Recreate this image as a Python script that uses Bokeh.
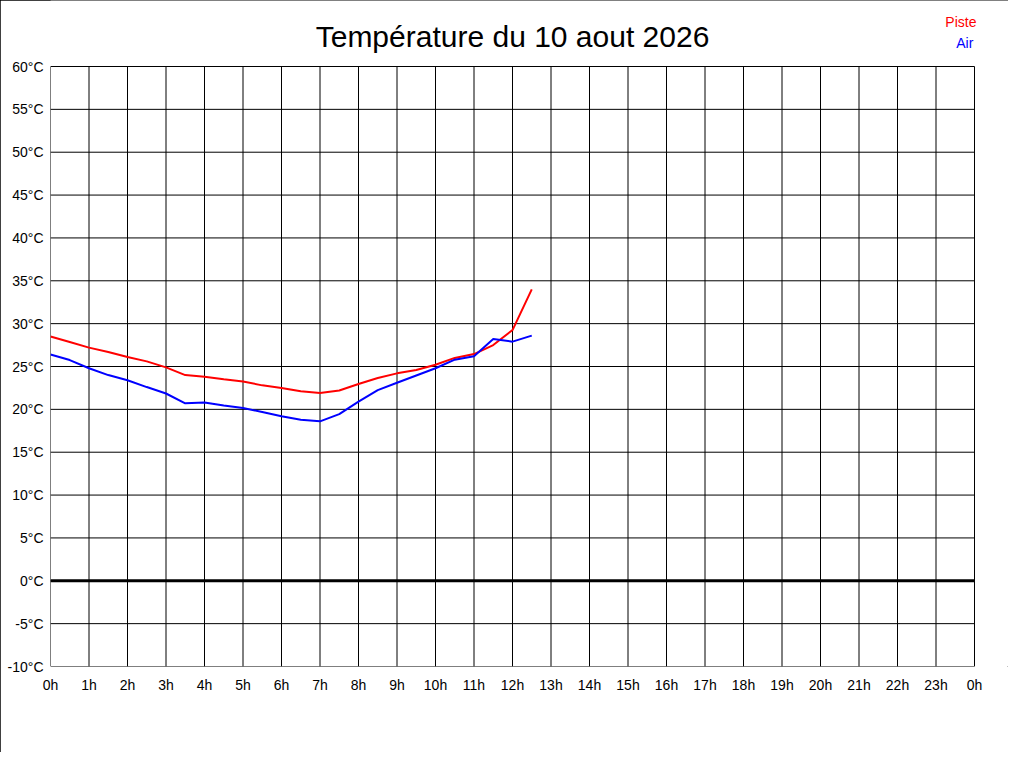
from bokeh.plotting import figure
from bokeh.models import FixedTicker, Label, Span
from bokeh.embed import file_html
from bokeh.resources import INLINE

# Time in hours (every 30 min)
hours = [0, 0.5, 1, 1.5, 2, 2.5, 3, 3.5, 4, 4.5, 5, 5.5, 6, 6.5, 7, 7.5,
         8, 8.5, 9, 9.5, 10, 10.5, 11, 11.5, 12, 12.5]
piste = [28.5, 27.85, 27.2, 26.7, 26.1, 25.6, 24.9, 24.0, 23.8, 23.5, 23.25, 22.8,
         22.5, 22.1, 21.9, 22.2, 22.95, 23.65, 24.2, 24.6, 25.2, 26.0, 26.45, 27.5,
         29.25, 34.0]
air = [26.4, 25.75, 24.8, 24.0, 23.4, 22.6, 21.85, 20.7, 20.8, 20.45, 20.15, 19.7,
       19.2, 18.8, 18.6, 19.45, 20.9, 22.25, 23.1, 23.95, 24.8, 25.8, 26.2, 28.2,
       27.9, 28.6]

y_ticks = list(range(-10, 61, 5))
y_labels = {t: f"{t}°C" for t in y_ticks}
x_ticks = list(range(0, 25))
x_labels = {t: f"{t % 24}h" for t in x_ticks}

title_text = "Température du 10 aout 2026"
legend_items = [("Piste", "#ff0000"), ("Air", "#0000ff")]

FONT = "Liberation Sans"

y_min, y_max = y_ticks[0], y_ticks[-1]
x_min, x_max = x_ticks[0], x_ticks[-1]

# The frame extends over the title area (so title / legend texts are drawn
# inside it); the chart area itself is 0..24 h by -10..60 °C.
p = figure(frame_width=958, frame_height=666,
           x_range=(0, 24.883), y_range=(-10, 67.7),
           output_backend="svg", toolbar_location=None,
           min_border_left=50, min_border_right=0,
           min_border_top=0, min_border_bottom=86)
p.styles = {"outline": "1px solid black", "outline-offset": "-1px"}

p.background_fill_color = "white"
p.border_fill_color = "white"
p.outline_line_color = None
p.xgrid.visible = False
p.ygrid.visible = False

for ax in (p.xaxis[0], p.yaxis[0]):
    ax.axis_line_color = None
    ax.major_tick_line_color = None
    ax.minor_tick_line_color = None
    ax.major_label_text_font = FONT
    ax.major_label_text_font_size = "14px"
    ax.major_label_text_color = "black"

p.yaxis[0].ticker = FixedTicker(ticks=y_ticks)
p.yaxis[0].major_label_overrides = y_labels
p.yaxis[0].major_label_standoff = 1
p.xaxis[0].ticker = FixedTicker(ticks=x_ticks)
p.xaxis[0].major_label_overrides = x_labels
p.xaxis[0].major_label_standoff = 4

# grid (derived from the tick lists)
p.segment(x0=x_ticks, y0=[y_min] * len(x_ticks), x1=x_ticks, y1=[y_max] * len(x_ticks),
          line_color="black", line_width=1)
p.segment(x0=[x_min] * len(y_ticks), y0=y_ticks, x1=[x_max] * len(y_ticks), y1=y_ticks,
          line_color="black", line_width=1)
p.segment(x0=[x_min], y0=[0], x1=[x_max], y1=[0], line_color="black", line_width=3)

p.line(hours, piste, line_color="#ff0000", line_width=2)
p.line(hours, air, line_color="#0000ff", line_width=2)

p.add_layout(Label(x=12, y=63.5, text=title_text, text_align="center",
                   text_baseline="middle", text_font=FONT,
                   text_font_size="30px", text_color="black"))
p.add_layout(Label(x=24.05, y=65.25, text=legend_items[0][0], text_align="right",
                   text_baseline="middle", text_font=FONT,
                   text_font_size="14px", text_color=legend_items[0][1]))
p.add_layout(Label(x=23.97, y=62.73, text=legend_items[1][0], text_align="right",
                   text_baseline="middle", text_font=FONT,
                   text_font_size="14px", text_color=legend_items[1][1]))

open("out.html", "w").write(file_html(p, INLINE))
